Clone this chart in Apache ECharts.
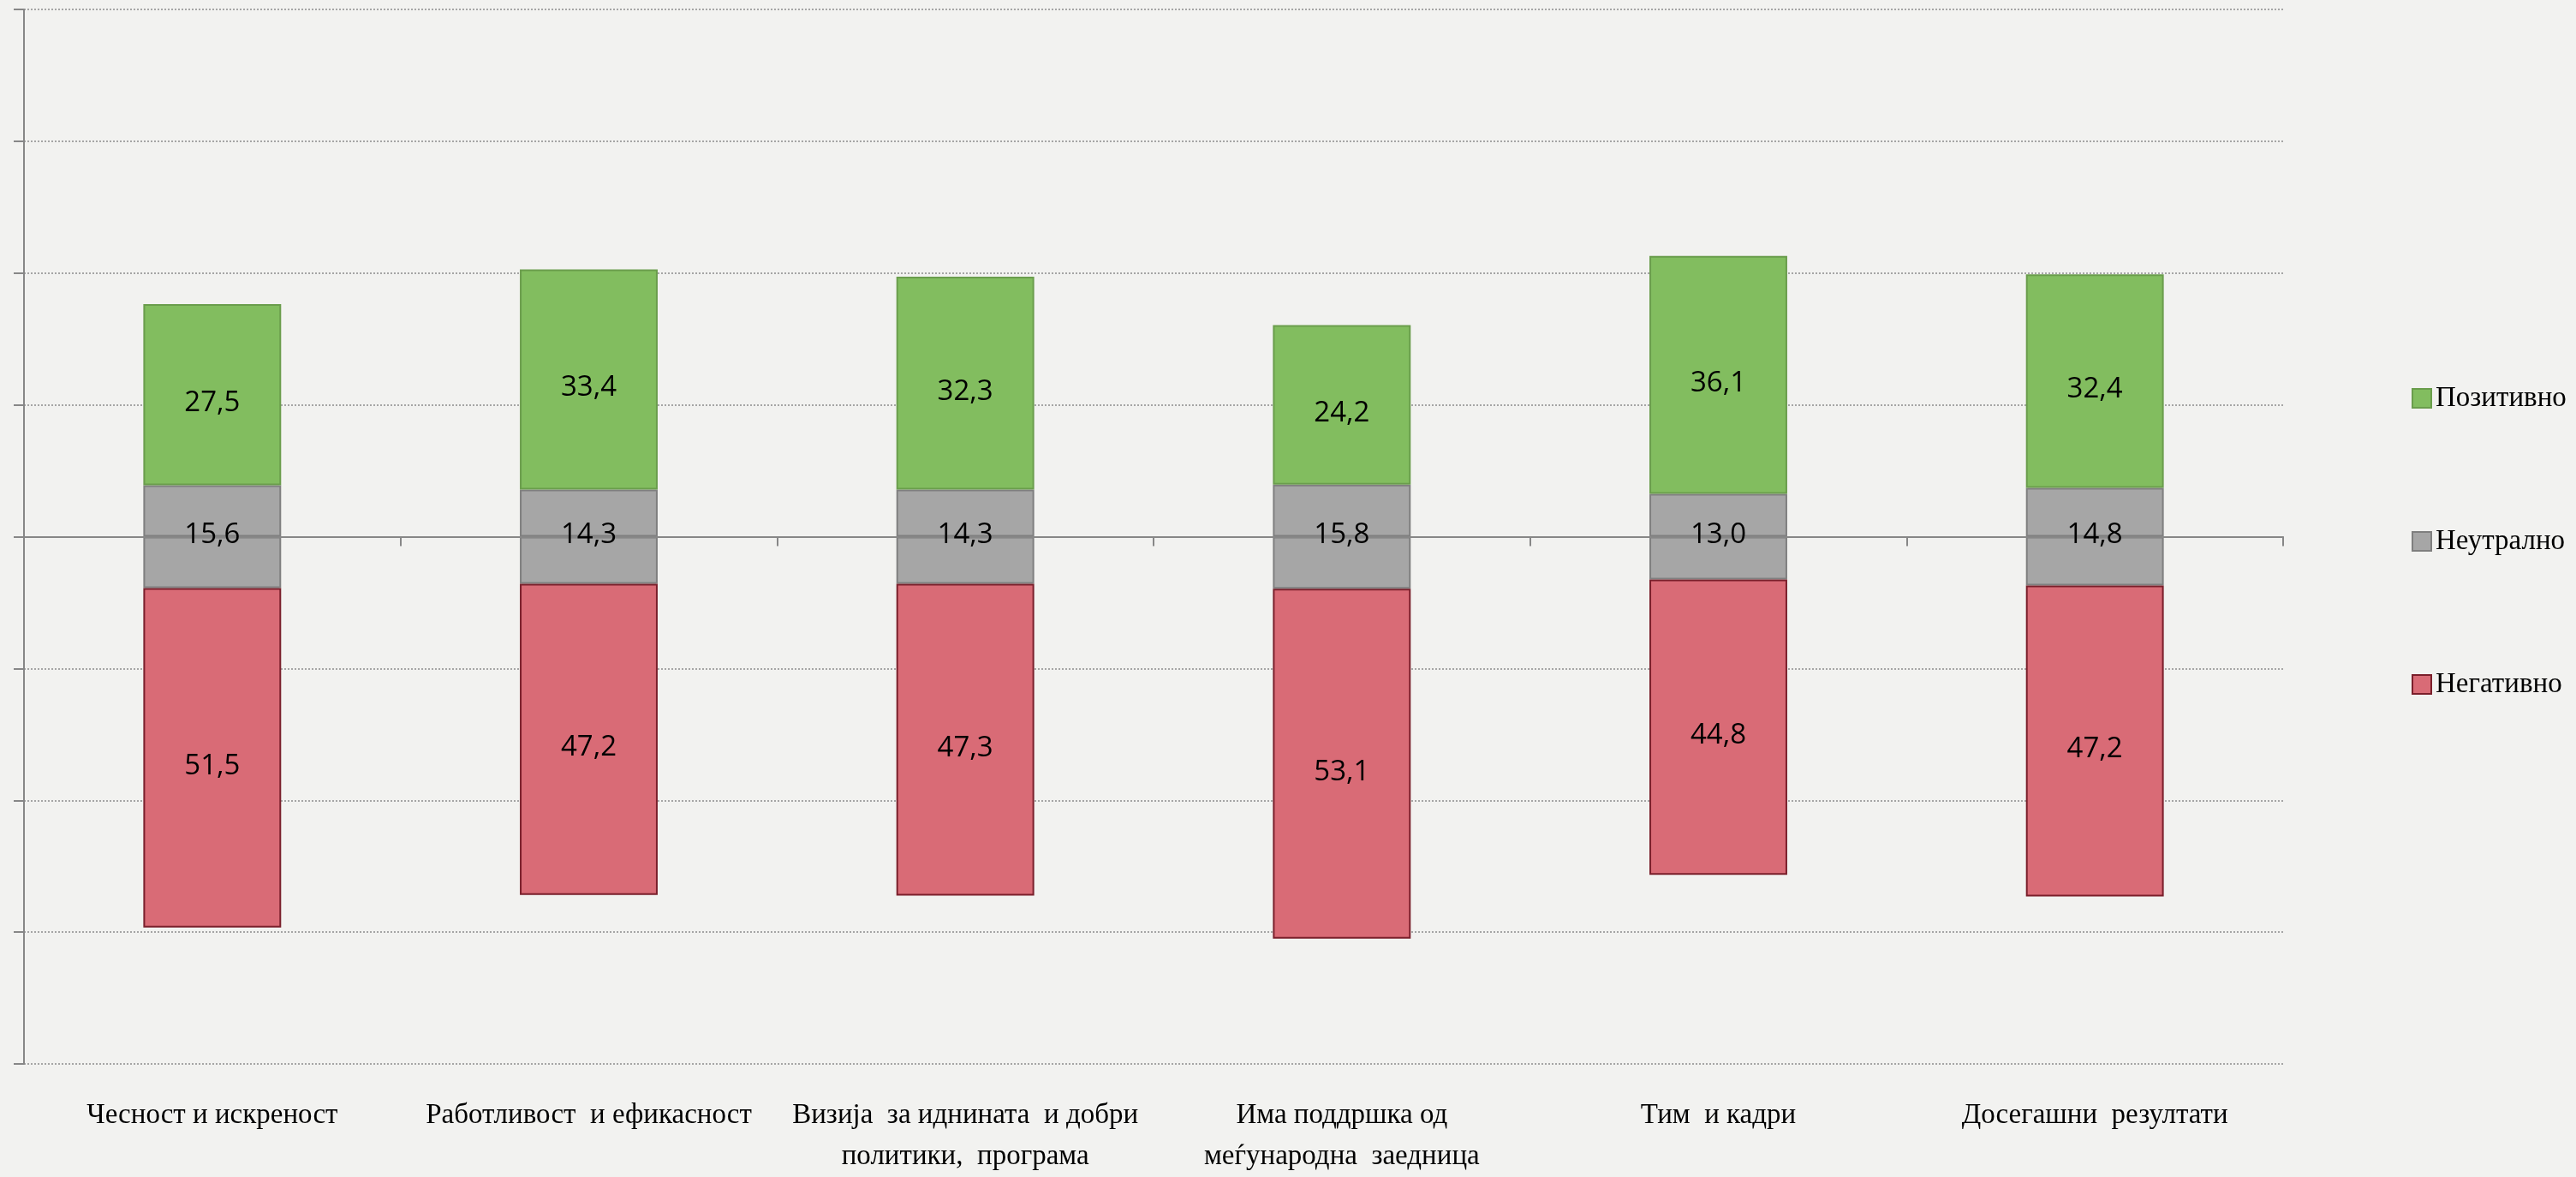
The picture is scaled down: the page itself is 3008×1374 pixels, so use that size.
<!DOCTYPE html>
<html>
<head>
<meta charset="utf-8">
<script src="https://cdn.jsdelivr.net/npm/echarts@6/dist/echarts.min.js"></script>
<style>
html,body{margin:0;padding:0;background:#f2f2f0;}
#chart{width:3008px;height:1374px;}
</style>
</head>
<body>
<div id="chart"></div>
<script>
const categories = [
  'Чесност и искреност',
  'Работливост  и ефикасност',
  'Визија  за иднината  и добри\nполитики,  програма',
  'Има поддршка од\nмеѓународна  заедница',
  'Тим  и кадри',
  'Досегашни  резултати'
];
const positive = [27.5, 33.4, 32.3, 24.2, 36.1, 32.4];
const neutral  = [15.6, 14.3, 14.3, 15.8, 13.0, 14.8];
const negative = [51.5, 47.2, 47.3, 53.1, 44.8, 47.2];
const yTicks = [-80, -60, -40, -20, 0, 20, 40, 60, 80];
const legendNames = ['Позитивно', 'Неутрално', 'Негативно'];

const fmt = v => Math.abs(v).toFixed(1).replace('.', ',');
const serif = 'Liberation Serif';
const valueFont = {fontFamily: 'Open Sans', fontSize: 33, color: '#000',
  textBorderWidth: 0, textBorderColor: 'transparent', opacity: 1};
const legendText = {fontFamily: serif, fontSize: 33, color: '#000', lineHeight: 34};

const chart = echarts.init(document.getElementById('chart'), null, {renderer: 'canvas'});
const greenStyle = {color: '#82bd5f', borderColor: '#6a9d4c', borderWidth: 2};
const grayStyle  = {color: '#a6a6a6', borderColor: '#7f7f7f', borderWidth: 2};
const redStyle   = {color: '#d96b76', borderColor: '#7a1f2b', borderWidth: 2};

chart.setOption({
  backgroundColor: '#f2f2f0',
  animation: false,
  textStyle: {fontFamily: serif},
  grid: {left: 28, right: 342, top: 11, bottom: 125},
  legend: {
    orient: 'vertical',
    left: 2811,
    top: 443,
    itemGap: 133,
    itemWidth: 22,
    itemHeight: 22,
    icon: 'rect',
    data: legendNames.map(n => ({name: n, textStyle: legendText})),
    textStyle: legendText
  },
  xAxis: [
    {
      type: 'category',
      data: categories,
      position: 'bottom',
      axisLine: {show: false, onZero: false},
      axisTick: {show: false},
      splitLine: {show: false},
      axisLabel: {
        interval: 0,
        margin: 36,
        fontFamily: serif,
        fontSize: 33,
        lineHeight: 48,
        color: '#000'
      }
    },
    {
      type: 'category',
      data: categories,
      position: 'bottom',
      z: 10,
      axisLine: {show: true, onZero: true, lineStyle: {color: '#878787', width: 2}},
      axisTick: {show: true, length: 11, lineStyle: {color: '#878787', width: 2}},
      axisLabel: {show: false},
      splitLine: {show: false}
    }
  ],
  yAxis: {
    type: 'value',
    min: yTicks[0],
    max: yTicks[yTicks.length - 1],
    interval: 20,
    axisLine: {show: true, lineStyle: {color: '#878787', width: 2}},
    axisTick: {show: true, length: 12, lineStyle: {color: '#878787', width: 2}},
    axisLabel: {show: false},
    splitLine: {show: true, lineStyle: {color: '#8c8c8c', width: 1.5, type: [2, 2]}}
  },
  series: [
    {
      name: legendNames[1], type: 'bar', stack: 'a', xAxisIndex: 0,
      barWidth: '36.6%',
      data: neutral.map(v => v / 2),
      itemStyle: grayStyle
    },
    {
      name: legendNames[0], type: 'bar', stack: 'a', xAxisIndex: 0,
      barWidth: '36.6%',
      data: positive,
      itemStyle: greenStyle,
      label: Object.assign({show: true, position: 'inside', offset: [0, 10], formatter: p => fmt(p.value)}, valueFont)
    },
    {
      name: legendNames[1], type: 'bar', stack: 'a', xAxisIndex: 0,
      barWidth: '36.6%',
      data: neutral.map(v => -v / 2),
      itemStyle: grayStyle
    },
    {
      name: legendNames[2], type: 'bar', stack: 'a', xAxisIndex: 0,
      barWidth: '36.6%',
      data: negative.map(v => -v),
      itemStyle: redStyle,
      label: Object.assign({show: true, position: 'inside', offset: [0, 10], formatter: p => fmt(p.value)}, valueFont)
    },
    {
      name: 'neutral-labels', type: 'scatter', xAxisIndex: 0,
      symbolSize: 0, z: 20,
      itemStyle: {color: '#000', opacity: 1},
      data: neutral.map(() => 0),
      label: Object.assign({show: true, position: 'inside', offset: [0, -2],
        formatter: p => fmt(neutral[p.dataIndex])}, valueFont),
      silent: true
    }
  ]
});
</script>
</body>
</html>
